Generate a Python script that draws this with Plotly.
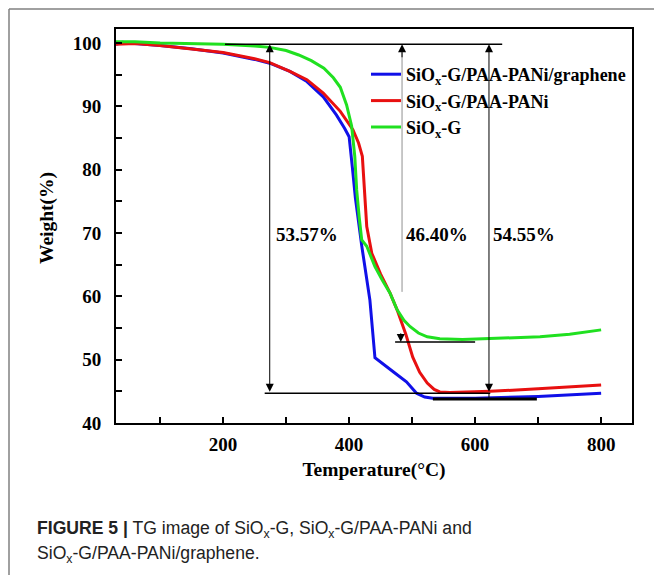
import plotly.graph_objects as go

# ---------------- data ----------------
T_blue = [30, 40, 60, 100, 150, 200, 250, 274, 306, 333, 359, 380, 393, 400, 405, 410, 420, 433, 441, 455, 470, 491, 507, 520, 533, 600, 700, 800]
W_blue = [99.8, 100.1, 99.9, 99.6, 99.1, 98.4, 97.4, 96.8, 95.5, 93.9, 91.5, 88.6, 86.5, 85.2, 80.5, 75.5, 68.0, 59.4, 50.3, 49.3, 48.1, 46.5, 44.7, 44.1, 43.9, 43.9, 44.2, 44.7]

T_red = [30, 60, 100, 150, 200, 250, 274, 306, 333, 359, 386, 406, 415, 421, 424, 428, 436, 450, 465, 476, 490, 501, 512, 524, 535, 544, 560, 600, 624, 700, 800]
W_red = [99.8, 99.9, 99.6, 99.1, 98.5, 97.5, 96.9, 95.5, 94.2, 92.1, 89.2, 86.3, 84.2, 82.1, 76.8, 71.0, 66.8, 63.5, 60.5, 57.9, 54.0, 50.4, 48.0, 46.3, 45.3, 44.9, 44.8, 44.9, 45.0, 45.4, 46.0]

T_green = [30, 60, 100, 150, 200, 250, 274, 300, 320, 340, 360, 375, 386, 396, 404, 409, 412, 416, 420, 428, 441, 453, 465, 476, 487, 497, 510, 524, 544, 580, 608, 650, 703, 750, 800]
W_green = [100.2, 100.2, 100.0, 99.9, 99.8, 99.5, 99.3, 98.8, 98.1, 97.2, 96.0, 94.5, 93.0, 90.2, 86.9, 82.1, 76.8, 72.5, 68.9, 67.9, 64.7, 62.5, 60.5, 57.9, 56.2, 55.2, 54.2, 53.6, 53.3, 53.2, 53.3, 53.4, 53.6, 54.0, 54.7]

series_names = ["SiO<sub>x</sub>-G/PAA-PANi/graphene", "SiO<sub>x</sub>-G/PAA-PANi", "SiO<sub>x</sub>-G"]
series_colors = ["#1010e8", "#e81010", "#20e020"]

x_tickvals = [200, 400, 600, 800]
y_tickvals = [40, 50, 60, 70, 80, 90, 100]

# weight-loss markers
top_level = 99.8
levels = {"a": 44.7, "b": 52.8, "c": 43.8}
loss_labels = ["53.57%", "46.40%", "54.55%"]
loss_label_T = [333, 539, 678]
loss_label_W = 69.7

fig = go.Figure()
for T, W, name, col in zip([T_blue, T_red, T_green], [W_blue, W_red, W_green], series_names, series_colors):
    fig.add_trace(go.Scatter(x=T, y=W, mode="lines", name=name,
                             line=dict(color=col, width=3)))

serif = "Liberation Serif, Times New Roman, serif"
sans = "Liberation Sans, Arial, sans-serif"

def px_x(px):
    return (px - 116) / 516

def px_y(py):
    return (423 - py) / 394

shapes = [
    dict(type="line", xref="x", yref="y", x0=203, x1=643, y0=top_level, y1=top_level, line=dict(color="black", width=1.5)),
    dict(type="line", xref="x", yref="y", x0=266, x1=624, y0=levels["a"], y1=levels["a"], line=dict(color="black", width=1.5)),
    dict(type="line", xref="x", yref="y", x0=473, x1=600, y0=levels["b"], y1=levels["b"], line=dict(color="black", width=1.5)),
    dict(type="line", xref="x", yref="y", x0=533, x1=698, y0=levels["c"], y1=levels["c"], line=dict(color="black", width=3)),
    dict(type="line", xref="x", yref="y", x0=484, x1=484, y0=60.7, y1=98.5, line=dict(color="#909090", width=1)),
    dict(type="line", xref="x", yref="y", x0=622, x1=622, y0=levels["a"], y1=levels["c"], line=dict(color="black", width=1)),
    # outer frame (top and left)
    dict(type="line", xref="paper", yref="paper", x0=px_x(9), x1=1.2, y0=px_y(9), y1=px_y(9), line=dict(color="#808080", width=1.5)),
    dict(type="line", xref="paper", yref="paper", x0=px_x(9), x1=px_x(9), y0=px_y(9), y1=-0.5, line=dict(color="#808080", width=1.5)),
]

annotations = [
    dict(x=274, y=top_level, ax=274, ay=levels["a"], xref="x", yref="y", axref="x", ayref="y", text="",
         showarrow=True, arrowside="end+start", arrowhead=2, arrowsize=1.6, arrowwidth=1, arrowcolor="black"),
    dict(x=622, y=top_level, ax=622, ay=levels["a"], xref="x", yref="y", axref="x", ayref="y", text="",
         showarrow=True, arrowside="end+start", arrowhead=2, arrowsize=1.6, arrowwidth=1, arrowcolor="black"),
    dict(x=484, y=top_level, ax=484, ay=97.5, xref="x", yref="y", axref="x", ayref="y", text="",
         showarrow=True, arrowhead=2, arrowsize=1.6, arrowwidth=1, arrowcolor="black"),
    dict(x=482, y=levels["b"], ax=482, ay=54.4, xref="x", yref="y", axref="x", ayref="y", text="",
         showarrow=True, arrowhead=2, arrowsize=1.6, arrowwidth=1, arrowcolor="black"),
]
for lbl, tx in zip(loss_labels, loss_label_T):
    annotations.append(dict(x=tx, y=loss_label_W, xref="x", yref="y", text=lbl, showarrow=False,
                            font=dict(family=serif, size=19, color="black", weight="bold")))

annotations += [
    dict(x=px_x(47), y=px_y(218), xref="paper", yref="paper", xanchor="center", yanchor="middle",
         text="Weight(%)", textangle=-90, showarrow=False,
         font=dict(family=serif, size=19.5, color="black", weight="bold")),
    dict(x=px_x(35), y=px_y(529), xref="paper", yref="paper", xanchor="left", yanchor="middle",
         text="<b>FIGURE 5 |</b> TG image of SiO<sub>x</sub>-G, SiO<sub>x</sub>-G/PAA-PANi and",
         showarrow=False, font=dict(family=sans, size=17.6, color="#222")),
    dict(x=px_x(35), y=px_y(554), xref="paper", yref="paper", xanchor="left", yanchor="middle",
         text="SiO<sub>x</sub>-G/PAA-PANi/graphene.",
         showarrow=False, font=dict(family=sans, size=17.6, color="#222")),
]

tick_font = dict(family=serif, size=19, color="black", weight="bold")
title_font = dict(family=serif, size=19.5, color="black", weight="bold")

fig.update_layout(
    width=654, height=575,
    margin=dict(l=116, r=22, t=29, b=152),
    paper_bgcolor="white", plot_bgcolor="white",
    showlegend=True,
    legend=dict(x=px_x(366), y=px_y(56), xanchor="left", yanchor="top",
                bgcolor="rgba(0,0,0,0)", borderwidth=0, tracegroupgap=0,
                font=dict(family=serif, size=18, color="black", weight="bold")),
    shapes=shapes,
    annotations=annotations,
    xaxis=dict(range=[30, 849], tickvals=x_tickvals, ticks="inside", ticklen=6, tickwidth=1.5, tickcolor="black",
               minor=dict(dtick=100, tick0=0, ticks="inside", ticklen=6, tickwidth=1.5, tickcolor="black"),
               showline=True, linecolor="black", linewidth=2, mirror=True, showgrid=False, zeroline=False,
               tickfont=tick_font, ticklabelstandoff=3,
               title=dict(text="Temperature(°C)", font=title_font, standoff=9)),
    yaxis=dict(range=[40, 102.2], tickvals=y_tickvals, ticks="inside", ticklen=6, tickwidth=1.5, tickcolor="black",
               minor=dict(dtick=5, tick0=0, ticks="inside", ticklen=6, tickwidth=1.5, tickcolor="black"),
               showline=True, linecolor="black", linewidth=2, mirror=True, showgrid=False, zeroline=False,
               tickfont=tick_font, ticklabelstandoff=9),
)

fig.write_html("out.html")
